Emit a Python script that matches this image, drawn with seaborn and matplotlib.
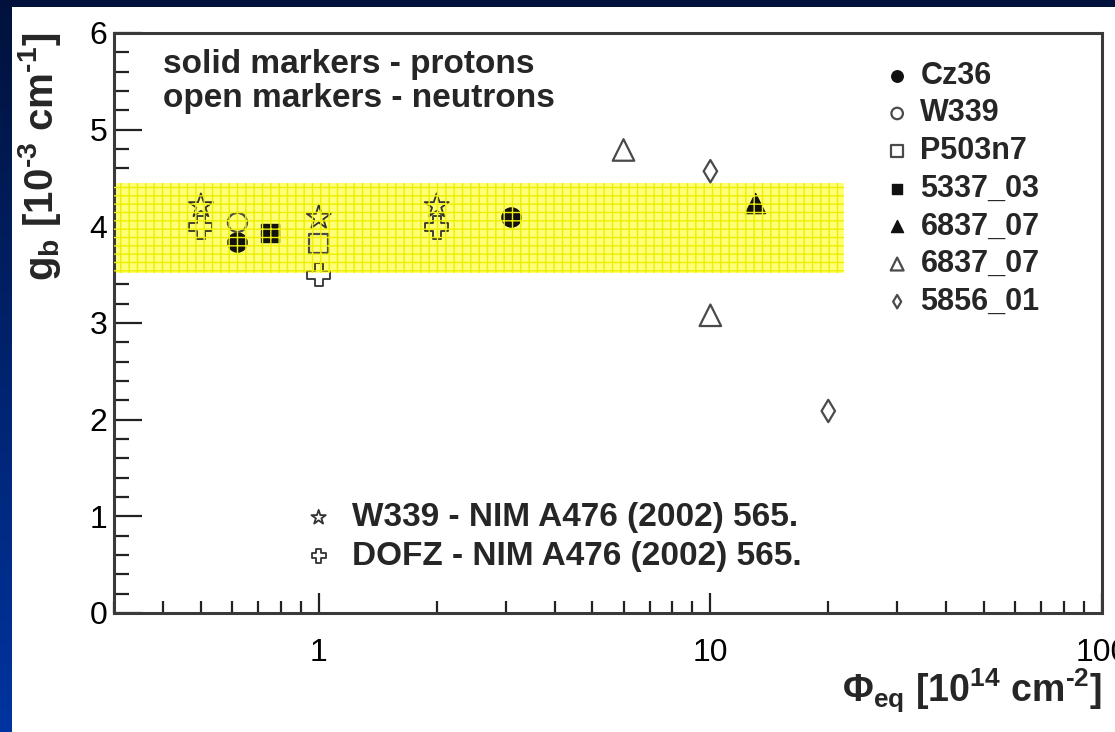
import numpy as np
import matplotlib
matplotlib.use("Agg")
import matplotlib.pyplot as plt
from matplotlib.patches import Rectangle
from matplotlib.ticker import LogLocator, MultipleLocator, NullFormatter, FuncFormatter
import seaborn as sns

# Fluence Phi_eq [1e14 cm^-2] and g_b [1e-3 cm^-1] for each material
cz36_phi, cz36_gb = [0.62, 3.1], [3.84, 4.10]
w339_phi, w339_gb = [0.62], [4.04]
p503_phi, p503_gb = [1.0], [3.82]
m5337_phi, m5337_gb = [0.75], [3.93]
m6837p_phi, m6837p_gb = [13.0], [4.24]
m6837n_phi, m6837n_gb = [6.0, 10.0], [4.79, 3.08]
m5856_phi, m5856_gb = [10.0, 20.0], [4.57, 2.09]

# Published reference values (NIM A476 (2002) 565)
ref_w339_phi, ref_w339_gb = [0.5, 1.0, 2.0], [4.21, 4.09, 4.21]
ref_dofz_phi, ref_dofz_gb = [0.5, 1.0, 2.0], [3.99, 3.50, 3.99]

# Spread band of g_b
band_phi = [0.3, 22.0]
band_low, band_high = 3.52, 4.45

x_major = [1, 10, 100]

sns.set_style("white")
plt.rcParams["font.family"] = ["Liberation Sans", "DejaVu Sans"]
plt.rcParams["mathtext.fontset"] = "custom"
plt.rcParams["mathtext.rm"] = "Liberation Sans:bold"
plt.rcParams["mathtext.bf"] = "Liberation Sans:bold"
plt.rcParams["mathtext.it"] = "Liberation Sans:bold"
plt.rcParams["hatch.linewidth"] = 1.0

W, H = 1115, 732
fig = plt.figure(figsize=(W / 100, H / 100), dpi=100)

# slide background: vertical blue gradient with a white panel
bg = fig.add_axes([0, 0, 1, 1], zorder=-10)
grad = np.linspace(0, 1, 256).reshape(-1, 1)
top_c = np.array([0x00, 0x12, 0x3c]) / 255
bot_c = np.array([0x00, 0x34, 0xa0]) / 255
img = top_c[None, None, :] * (1 - grad[:, :, None]) + bot_c[None, None, :] * grad[:, :, None]
bg.imshow(img, aspect="auto", extent=[0, 1, 0, 1], origin="upper")
bg.add_patch(Rectangle((12 / W, 0), 1, 1 - 7 / H, facecolor="white", edgecolor="none"))
bg.set_xlim(0, 1)
bg.set_ylim(0, 1)
bg.axis("off")

left, right, top, bottom = 114, 1102, 33, 613
ax = fig.add_axes([left / W, 1 - bottom / H, (right - left) / W, (bottom - top) / H])
ax.set_facecolor("none")

# band (base fill below markers, grid pattern above)
ax.fill_between(band_phi, band_low, band_high, facecolor="#ffff78", edgecolor="none", lw=0, zorder=1)
ax.fill_between(band_phi, band_low, band_high, facecolor="none", hatch="++",
                edgecolor="#eeee00", lw=0, zorder=5)

edge = "#3a3a3a"
open_kw = dict(facecolors="none", edgecolor="#4a4a4a", linewidth=1.6)
solid_kw = dict(edgecolor="#111111", linewidth=1.0)

series = [
    ("Cz36", cz36_phi, cz36_gb, "o", 190, True),
    ("W339", w339_phi, w339_gb, "o", 190, False),
    ("P503n7", p503_phi, p503_gb, "s", 190, False),
    ("5337_03", m5337_phi, m5337_gb, "s", 170, True),
    ("6837_07", m6837p_phi, m6837p_gb, "^", 210, True),
    ("6837_07 ", m6837n_phi, m6837n_gb, "^", 240, False),
    ("5856_01", m5856_phi, m5856_gb, "d", 130, False),
]
handles = []
for name, xs, ys, mk, sz, filled in series:
    kw = dict(solid_kw) if filled else dict(open_kw)
    sns.scatterplot(x=xs, y=ys, marker=mk, s=sz, color="#111111" if filled else "#4a4a4a",
                    ax=ax, label=name.strip(), zorder=3, legend=False, **kw)
    handles.append(ax.collections[-1])

ref_handles = []
for name, xs, ys, mk, sz in [
    ("W339 - NIM A476 (2002) 565.", ref_w339_phi, ref_w339_gb, "*", 330),
    ("DOFZ - NIM A476 (2002) 565.", ref_dofz_phi, ref_dofz_gb, "P", 280),
]:
    sns.scatterplot(x=xs, y=ys, marker=mk, s=sz, color="#333333", ax=ax, label=name,
                    zorder=3, legend=False, facecolors="none", edgecolor="#333333", linewidth=1.3)
    ref_handles.append(ax.collections[-1])

ax.set_xscale("log")
ax.set_xlim(0.3, 100)
ax.set_ylim(0, 6)
ax.xaxis.set_major_locator(LogLocator(base=10, numticks=10))
ax.xaxis.set_minor_locator(LogLocator(base=10, subs=np.arange(2, 10), numticks=20))
ax.xaxis.set_major_formatter(FuncFormatter(lambda v, p: f"{v:g}"))
ax.xaxis.set_minor_formatter(NullFormatter())
ax.set_xticks(x_major)
ax.yaxis.set_major_locator(MultipleLocator(1))
ax.yaxis.set_minor_locator(MultipleLocator(0.2))

for s in ax.spines.values():
    s.set_color(edge)
    s.set_linewidth(2.2)
    s.set_visible(True)

ax.tick_params(axis="both", which="both", direction="in", colors="#222222", width=1.6,
               top=False, right=False, left=True, bottom=True)
ax.tick_params(axis="y", which="major", length=20, pad=5, labelsize=23)
ax.tick_params(axis="y", which="minor", length=11)
ax.tick_params(axis="x", which="major", length=14.5, pad=18, labelsize=23)
ax.tick_params(axis="x", which="minor", length=8.5)
ax.tick_params(axis="both", labelcolor="black")

ax.set_ylabel(r"g$_\mathbf{b}$ [10$^{\text{-3}}$ cm$^{\text{-1}}$]", fontsize=29,
              fontweight="bold", loc="top")
ax.yaxis.set_label_coords(-0.052, 1.0)
ax.set_xlabel(r"$\Phi_\mathbf{eq}$ [10$^{\text{14}}$ cm$^{\text{-2}}$]", fontsize=27,
              fontweight="bold", loc="right")
ax.xaxis.set_label_coords(1.0, -0.092)

ax.text(0.0496, 0.931, "solid markers - protons", transform=ax.transAxes,
        fontsize=24, fontweight="bold", va="baseline", ha="left")
ax.text(0.0496, 0.8724, "open markers - neutrons", transform=ax.transAxes,
        fontsize=24, fontweight="bold", va="baseline", ha="left")

leg1 = ax.legend(handles=handles, labels=[s[0].strip() for s in series],
                 loc="upper left", bbox_to_anchor=(0.7834, 0.952), frameon=False,
                 borderpad=0, borderaxespad=0, handlelength=0.6, handletextpad=0.46,
                 labelspacing=0.25, markerscale=0.6,
                 prop={"weight": "bold", "size": 22})
ax.add_artist(leg1)
ax.legend(handles=ref_handles, labels=["W339 - NIM A476 (2002) 565.", "DOFZ - NIM A476 (2002) 565."],
          loc="upper left", bbox_to_anchor=(0.197, 0.191), frameon=False,
          borderpad=0, borderaxespad=0, handlelength=0.6, handletextpad=0.7,
          labelspacing=0.22, markerscale=0.6, prop={"weight": "bold", "size": 24})

fig.savefig("out.png", dpi=100)
